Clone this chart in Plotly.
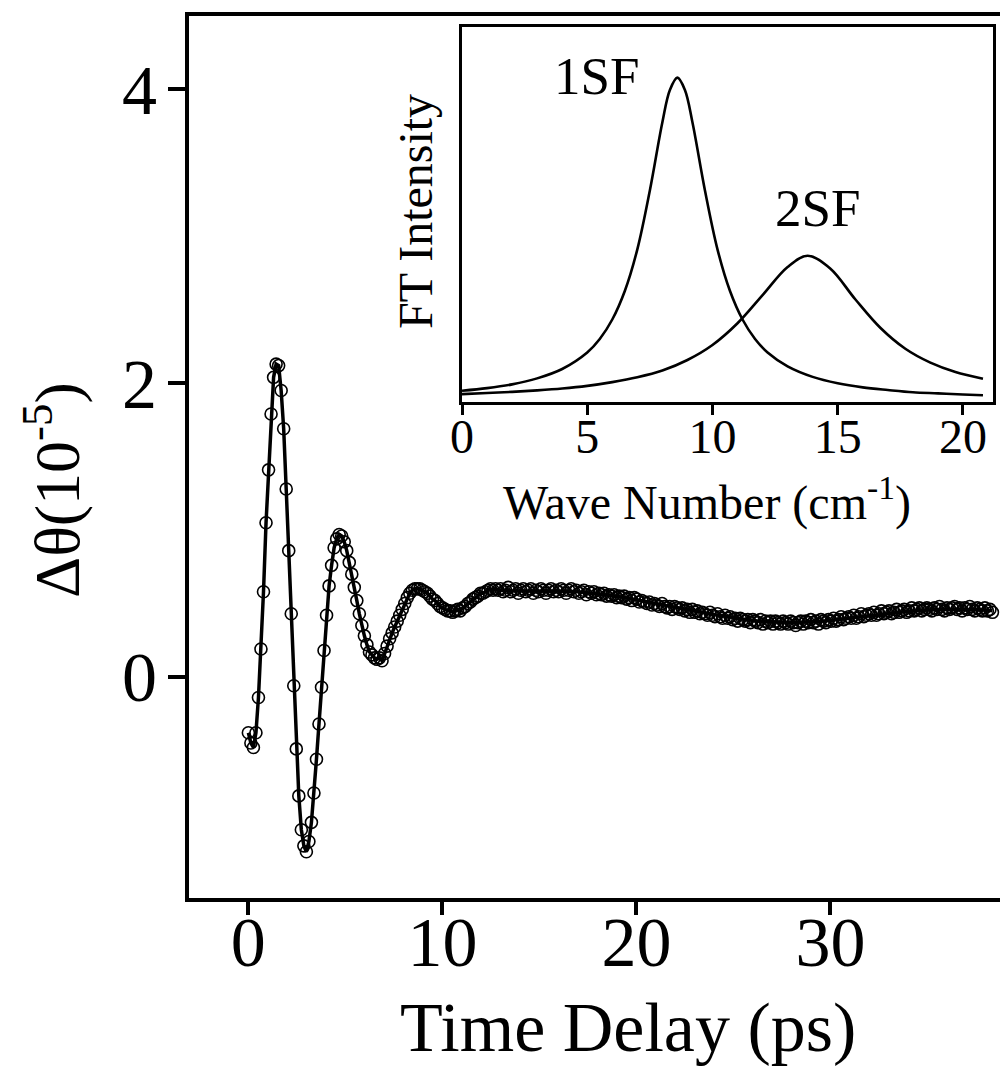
import plotly.graph_objects as go

# ---------------- main trace data ----------------
SAMPLE_START_PS = 0.0
SAMPLE_STEP_PS = 0.13

signal = [
    -0.38, -0.45, -0.48, -0.38, -0.14, 0.19, 0.58, 1.05, 1.41, 1.79,
    2.04, 2.13, 2.12, 1.95, 1.69, 1.28, 0.86, 0.43, -0.06, -0.49,
    -0.81, -1.04, -1.15, -1.19, -1.12, -0.99, -0.79, -0.56, -0.32, -0.07,
    0.18, 0.42, 0.62, 0.76, 0.88, 0.94, 0.97, 0.96, 0.92, 0.86,
    0.78, 0.70, 0.61, 0.52, 0.43, 0.35, 0.28, 0.22, 0.17, 0.15,
    0.13, 0.12, 0.13, 0.11, 0.16, 0.21, 0.26, 0.30, 0.34, 0.38,
    0.42, 0.46, 0.50, 0.54, 0.57, 0.59, 0.60, 0.60, 0.60, 0.59,
    0.58, 0.57, 0.55, 0.53, 0.52, 0.50, 0.48, 0.47, 0.46, 0.45,
    0.45, 0.44, 0.45, 0.46, 0.45, 0.47, 0.48, 0.50, 0.51, 0.53,
    0.54, 0.55, 0.57, 0.57, 0.58, 0.59, 0.60, 0.59, 0.60, 0.59,
    0.60, 0.58, 0.59, 0.61, 0.58, 0.59, 0.60, 0.57, 0.59, 0.60,
    0.58, 0.59, 0.60, 0.57, 0.59, 0.58, 0.60, 0.59, 0.57, 0.59,
    0.60, 0.58, 0.59, 0.58, 0.60, 0.59, 0.57, 0.59, 0.60, 0.58,
    0.59, 0.57, 0.58, 0.59, 0.56, 0.58, 0.57, 0.58, 0.56, 0.57,
    0.56, 0.57, 0.55, 0.56, 0.55, 0.56, 0.54, 0.55, 0.54, 0.55,
    0.53, 0.54, 0.52, 0.54, 0.53, 0.51, 0.52, 0.51, 0.50, 0.51,
    0.49, 0.50, 0.49, 0.48, 0.50, 0.48, 0.47, 0.48, 0.46, 0.48,
    0.47, 0.46, 0.47, 0.45, 0.46, 0.44, 0.46, 0.44, 0.45, 0.43,
    0.44, 0.43, 0.42, 0.44, 0.42, 0.41, 0.43, 0.41, 0.40, 0.42,
    0.40, 0.41, 0.39, 0.40, 0.38, 0.40, 0.39, 0.38, 0.39, 0.37,
    0.39, 0.38, 0.37, 0.39, 0.36, 0.38, 0.37, 0.38, 0.36, 0.38,
    0.37, 0.36, 0.38, 0.37, 0.36, 0.38, 0.37, 0.35, 0.37, 0.38,
    0.36, 0.38, 0.37, 0.39, 0.37, 0.38, 0.36, 0.39, 0.38, 0.37,
    0.39, 0.38, 0.40, 0.38, 0.39, 0.41, 0.39, 0.40, 0.41, 0.40,
    0.42, 0.40, 0.41, 0.43, 0.41, 0.42, 0.43, 0.42, 0.44, 0.42,
    0.43, 0.45, 0.43, 0.44, 0.45, 0.43, 0.44, 0.46, 0.44, 0.45,
    0.46, 0.44, 0.45, 0.47, 0.45, 0.46, 0.47, 0.45, 0.46, 0.47,
    0.46, 0.45, 0.47, 0.46, 0.48, 0.46, 0.45, 0.47, 0.46, 0.47,
    0.48, 0.46, 0.47, 0.45, 0.47, 0.46, 0.48, 0.46, 0.45, 0.47,
    0.46, 0.45, 0.47, 0.45, 0.46, 0.44,
]

# smooth fit for the slow tail (ps, 1e-5 rad)
fit_tail_time = [12.87, 14, 15, 16, 17, 18, 19, 20, 21, 22, 23, 24, 25, 26,
                 27, 28, 29, 30, 31, 32, 33, 34, 35, 36, 37, 38, 38.35]
fit_tail_value = [0.59, 0.585, 0.585, 0.585, 0.58, 0.565, 0.55, 0.525, 0.50,
                  0.475, 0.45, 0.425, 0.405, 0.385, 0.375, 0.37, 0.375, 0.385,
                  0.40, 0.415, 0.43, 0.445, 0.455, 0.46, 0.46, 0.455, 0.45]
EARLY_FIT_POINTS = 100

main_xticks = [0, 10, 20, 30]
main_yticks = [0, 2, 4]

# ---------------- inset data ----------------
sf1_wavenumber = [0, 1, 2, 3, 4, 5, 5.5, 6, 6.5, 7, 7.5, 8, 8.3, 8.6, 8.9, 9.2,
                  9.7, 10.2, 10.7, 11.2, 11.7, 12.2, 13, 14, 15, 16, 17, 18,
                  19, 20, 20.8]
sf1_intensity = [0.030, 0.037, 0.047, 0.063, 0.088, 0.132, 0.168, 0.220, 0.296,
                 0.407, 0.564, 0.746, 0.832, 0.865, 0.832, 0.746, 0.564, 0.407,
                 0.296, 0.220, 0.168, 0.132, 0.095, 0.067, 0.050, 0.039, 0.032,
                 0.026, 0.023, 0.020, 0.018]

sf2_wavenumber = [0, 1, 2, 3, 4, 5, 6, 7, 8, 9, 10, 11, 12, 13, 13.8, 14.7,
                  15.7, 16.7, 17.7, 18.7, 19.7, 20.8]
sf2_intensity = [0.021, 0.024, 0.027, 0.031, 0.036, 0.043, 0.053, 0.066, 0.084,
                 0.112, 0.152, 0.210, 0.285, 0.360, 0.390, 0.356, 0.274, 0.198,
                 0.142, 0.105, 0.080, 0.062]

inset_xticks = [0, 5, 10, 15, 20]

FONT = "Liberation Serif, Times New Roman, serif"
W, H = 1000, 1068

fig = go.Figure()

# fit line (early part on the sample grid, then the slow tail)
fig.add_trace(go.Scatter(
    x0=SAMPLE_START_PS, dx=SAMPLE_STEP_PS, y=signal[:EARLY_FIT_POINTS],
    mode="lines", line=dict(color="black", width=3.5), showlegend=False,
    xaxis="x", yaxis="y"))
fig.add_trace(go.Scatter(
    x=fit_tail_time, y=fit_tail_value, mode="lines",
    line=dict(color="black", width=3.5, shape="spline"), showlegend=False,
    xaxis="x", yaxis="y"))
# data points
fig.add_trace(go.Scatter(
    x0=SAMPLE_START_PS, dx=SAMPLE_STEP_PS, y=signal, mode="markers",
    marker=dict(symbol="circle-open", size=12, color="black",
                line=dict(width=1.6, color="black")),
    showlegend=False, xaxis="x", yaxis="y"))

# inset
fig.add_trace(go.Scatter(
    x=sf1_wavenumber, y=sf1_intensity, mode="lines",
    line=dict(color="black", width=2.6, shape="spline"), showlegend=False,
    xaxis="x2", yaxis="y2"))
fig.add_trace(go.Scatter(
    x=sf2_wavenumber, y=sf2_intensity, mode="lines",
    line=dict(color="black", width=2.6, shape="spline"), showlegend=False,
    xaxis="x2", yaxis="y2"))

def px_x(p):
    return p / W

def px_y(p):
    return 1 - p / H

fig.update_layout(
    width=W, height=H,
    margin=dict(l=0, r=0, t=0, b=0, autoexpand=False),
    paper_bgcolor="white", plot_bgcolor="white",
    font=dict(family=FONT, color="black"),
    xaxis=dict(
        domain=[px_x(189), 1.0], range=[-3.06, 38.74], automargin=False,
        tickvals=main_xticks, ticks="outside", ticklen=13, tickwidth=4,
        tickcolor="black", showline=True, linewidth=4, linecolor="black",
        mirror=True, showgrid=False, zeroline=False,
        tickfont=dict(size=70, family=FONT), ticklabelstandoff=-33),
    yaxis=dict(
        domain=[px_y(898), px_y(16)], range=[-1.505, 4.5], automargin=False,
        tickvals=main_yticks, ticks="outside", ticklen=17, tickwidth=4,
        tickcolor="black", showline=True, linewidth=4, linecolor="black",
        showgrid=False, zeroline=False,
        tickfont=dict(size=70, family=FONT), ticklabelstandoff=-3),
    xaxis2=dict(
        domain=[px_x(462), px_x(993)], range=[0, 21.2], anchor="y2",
        automargin=False,
        tickvals=inset_xticks, ticks="outside", ticklen=10, tickwidth=2.6,
        tickcolor="black", showline=True, linewidth=2.6, linecolor="black",
        mirror=True, showgrid=False, zeroline=False,
        tickfont=dict(size=48, family=FONT), ticklabelstandoff=-19),
    yaxis2=dict(
        domain=[px_y(402), px_y(27)], range=[0, 1], anchor="x2",
        automargin=False,
        showticklabels=False, ticks="", showline=True, linewidth=2.6,
        linecolor="black", mirror=True, showgrid=False, zeroline=False),
    annotations=[
        dict(text="Time Delay (ps)", x=px_x(628), y=px_y(1027), xref="paper",
             yref="paper", showarrow=False, xanchor="center", yanchor="middle",
             font=dict(size=70, family=FONT)),
        dict(text="Δθ(10<sup>-5</sup>)", x=px_x(52), y=px_y(490),
             xref="paper", yref="paper", showarrow=False, textangle=-90,
             xanchor="center", yanchor="middle",
             font=dict(size=64, family=FONT)),
        dict(text="Wave Number (cm<sup>-1</sup>)", x=px_x(707), y=px_y(499),
             xref="paper", yref="paper", showarrow=False, xanchor="center",
             yanchor="middle", font=dict(size=48, family=FONT)),
        dict(text="FT Intensity", x=px_x(415), y=px_y(212), xref="paper",
             yref="paper", showarrow=False, textangle=-90, xanchor="center",
             yanchor="middle", font=dict(size=48, family=FONT)),
        dict(text="1SF", x=px_x(596), y=px_y(76), xref="paper", yref="paper",
             showarrow=False, xanchor="center", yanchor="middle",
             font=dict(size=53, family=FONT)),
        dict(text="2SF", x=px_x(817), y=px_y(208), xref="paper", yref="paper",
             showarrow=False, xanchor="center", yanchor="middle",
             font=dict(size=53, family=FONT)),
    ],
)

fig.write_html("out.html")
